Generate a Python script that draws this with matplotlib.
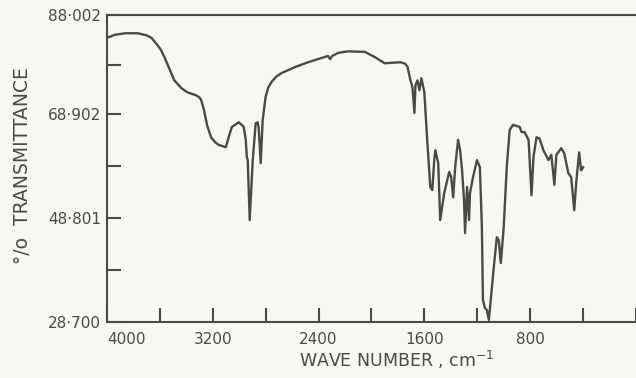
"""IR spectrum: % transmittance against wave number, redrawn from a scanned figure."""

import matplotlib

matplotlib.use("Agg")
import matplotlib.pyplot as plt

INK = "#4a4a48"
PAPER = "#f8f7f2"

# values (cm-1, % transmittance)
wavenumber = [
    4000, 3940, 3860, 3767, 3700, 3662, 3617, 3590, 3565, 3525, 3490, 3437, 3392, 3325,
    3300, 3287, 3265, 3242, 3212, 3180, 3152, 3100, 3075, 3055, 3002, 2965, 2950, 2942,
    2935, 2920, 2897, 2875, 2860, 2852, 2837, 2822, 2800, 2780, 2755, 2720, 2680, 2575,
    2478, 2380, 2328, 2312, 2297, 2252, 2178, 2050, 1975, 1900, 1780, 1745, 1727, 1705,
    1690, 1675, 1667, 1652, 1637, 1622, 1600, 1577, 1555, 1540, 1525, 1517, 1495, 1480,
    1450, 1412, 1397, 1382, 1367, 1345, 1330, 1315, 1300, 1292, 1277, 1262, 1255, 1232,
    1202, 1180, 1165, 1157, 1142, 1127, 1112, 1075, 1052, 1037, 1022, 1000, 977, 955,
    930, 917, 880, 865, 842, 812, 790, 775, 752, 730, 700, 662, 640, 617, 602, 565, 542,
    512, 490, 467, 452, 430, 415, 400,
]
transmittance = [
    83.6, 84.2, 84.5, 84.5, 84.1, 83.6, 82.2, 81.2, 79.9, 77.5, 75.4, 73.9, 73.1, 72.5,
    72.1, 71.6, 69.6, 66.7, 64.4, 63.4, 62.9, 62.5, 64.8, 66.4, 67.3, 66.4, 63.9, 60.6,
    60.0, 48.4, 60.0, 67.1, 67.3, 66.2, 59.4, 67.7, 72.2, 74.0, 75.1, 76.1, 76.8, 78.0,
    78.9, 79.7, 80.1, 79.5, 80.1, 80.7, 81.0, 80.9, 79.9, 78.7, 78.9, 78.6, 78.0, 75.4,
    74.1, 69.1, 74.5, 75.4, 73.5, 75.8, 73.1, 63.3, 54.8, 54.2, 60.0, 61.9, 59.4, 48.4,
    53.6, 57.7, 56.7, 52.8, 58.6, 63.9, 62.0, 58.1, 52.3, 45.9, 54.8, 48.4, 53.6, 56.7,
    60.0, 58.6, 47.0, 33.0, 31.4, 31.0, 29.1, 39.3, 45.1, 44.5, 40.1, 47.0, 58.6, 65.8,
    66.8, 66.7, 66.4, 65.4, 65.4, 63.9, 53.2, 60.6, 64.4, 64.2, 61.9, 60.0, 61.0, 55.2,
    61.0, 62.3, 61.3, 57.5, 56.7, 50.3, 55.6, 61.5, 58.0, 58.6,
]

x_major = [4000, 3200, 2400, 1600, 800]
x_minor = [3600, 2800, 2000, 1200, 400, 0]
y_major = [88.002, 68.902, 48.801, 28.700]
y_major_labels = ["88·002", "68·902", "48·801", "28·700"]
y_minor = [78.452, 58.852, 38.750]

plt.rcParams["font.family"] = ["DejaVu Sans"]

fig = plt.figure(figsize=(6.36, 3.78), dpi=100, facecolor=PAPER)
ax = fig.add_axes([0.168, 0.148, 0.832, 0.812], facecolor=PAPER)

ax.plot(wavenumber, transmittance, color=INK, lw=1.7, solid_joinstyle="round")

ax.set_xlim(4000, 32)
ax.set_ylim(28.700, 88.002)

# frame is cut off at the right edge of the scan
ax.spines["right"].set_visible(False)
for side in ("left", "top", "bottom"):
    ax.spines[side].set_color(INK)
    ax.spines[side].set_linewidth(1.5)

ax.set_xticks(x_major)
ax.set_xticks(x_minor, minor=True)
ax.set_xticklabels([str(v) for v in x_major])
ax.set_yticks(y_major)
ax.set_yticks(y_minor, minor=True)
ax.set_yticklabels(y_major_labels)

ax.tick_params(which="both", direction="in", length=10, width=1.5, color=INK,
               labelcolor=INK, labelsize=11)
ax.tick_params(axis="x", pad=7)
ax.tick_params(axis="y", pad=4)
ax.tick_params(top=False, right=False)
ax.get_xticklabels()[0].set_horizontalalignment("left")

fig.text(0.035, 0.563, "°/o  TRANSMITTANCE", rotation=90, ha="center", va="center",
         color=INK, fontsize=13.5)
fig.text(0.623, 0.048, "WAVE NUMBER , cm$^{-1}$", ha="center", va="center",
         color=INK, fontsize=12.5)

fig.savefig("out.png", dpi=100, facecolor=PAPER)
